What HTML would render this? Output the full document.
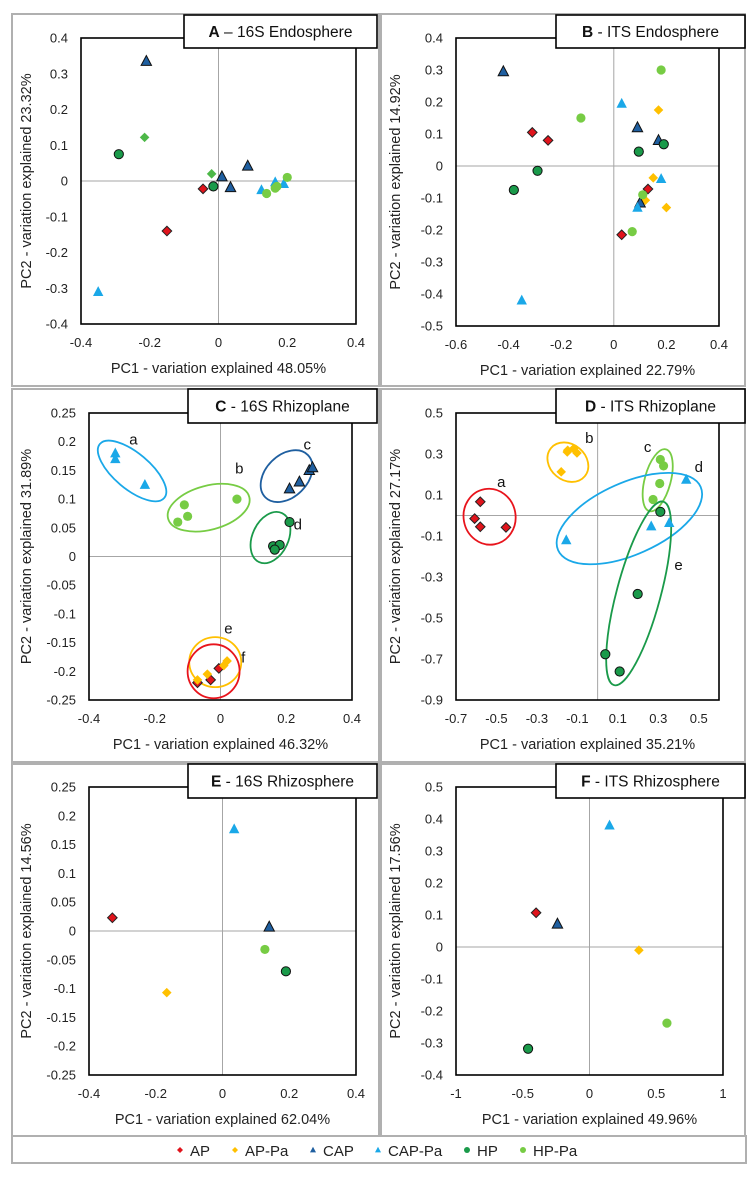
<!DOCTYPE html>
<html><head><meta charset="utf-8">
<style>
html,body{margin:0;padding:0;background:#fff;}
svg{display:block;font-family:"Liberation Sans",Arial,sans-serif;}
</style></head>
<body>
<svg id="chart" width="754" height="1177" viewBox="0 0 754 1177"></svg>
<script>
// ---------- data ----------
const seriesNames = ["AP","AP-Pa","CAP","CAP-Pa","HP","HP-Pa"];
// Panel A - 16S Endosphere
const aAP = [[-0.045,-0.022],[-0.15,-0.14]];
const aAPPa = [[-0.215,0.122],[-0.02,0.02]];
const aCAP = [[-0.21,0.335],[0.01,0.012],[0.035,-0.018],[0.085,0.042]];
const aCAPPa = [[-0.35,-0.31],[0.125,-0.025],[0.165,-0.003],[0.19,-0.008]];
const aHP = [[-0.29,0.075],[-0.015,-0.015]];
const aHPPa = [[0.14,-0.035],[0.165,-0.02],[0.17,-0.015],[0.2,0.01]];
// Panel B - ITS Endosphere
const bAP = [[-0.31,0.105],[-0.25,0.08],[0.13,-0.072],[0.03,-0.215]];
const bAPPa = [[0.17,0.175],[0.15,-0.037],[0.12,-0.107],[0.2,-0.13]];
const bCAP = [[-0.42,0.295],[0.09,0.12],[0.17,0.08],[0.1,-0.115]];
const bCAPPa = [[0.03,0.195],[0.18,-0.04],[0.09,-0.13],[-0.35,-0.42]];
const bHP = [[-0.38,-0.075],[-0.29,-0.015],[0.095,0.045],[0.19,0.068]];
const bHPPa = [[0.18,0.3],[-0.125,0.15],[0.11,-0.09],[0.07,-0.205]];
// Panel C - 16S Rhizoplane
const cAP = [[-0.07,-0.22],[-0.03,-0.215],[-0.005,-0.195]];
const cAPPa = [[-0.07,-0.215],[-0.04,-0.205],[0.01,-0.19],[0.02,-0.182]];
const cCAP = [[0.21,0.118],[0.24,0.13],[0.27,0.15],[0.28,0.155]];
const cCAPPa = [[-0.32,0.18],[-0.32,0.17],[-0.23,0.125]];
const cHP = [[0.21,0.06],[0.16,0.018],[0.18,0.02],[0.165,0.012]];
const cHPPa = [[-0.11,0.09],[-0.13,0.06],[-0.1,0.07],[0.05,0.1]];
// Panel D - ITS Rhizoplane
const dAP = [[-0.608,-0.015],[-0.58,0.067],[-0.58,-0.055],[-0.453,-0.058]];
const dAPPa = [[-0.18,0.213],[-0.148,0.318],[-0.119,0.326],[-0.102,0.305],[-0.15,0.31]];
const dCAP = [];
const dCAPPa = [[0.438,0.175],[0.265,-0.052],[0.354,-0.036],[-0.155,-0.12]];
const dHP = [[0.31,0.018],[0.198,-0.383],[0.038,-0.677],[0.109,-0.761]];
const dHPPa = [[0.31,0.273],[0.326,0.242],[0.307,0.156],[0.274,0.078]];
// Panel E - 16S Rhizosphere
const eAP = [[-0.33,0.023]];
const eAPPa = [[-0.167,-0.107]];
const eCAP = [[0.14,0.007]];
const eCAPPa = [[0.035,0.177]];
const eHP = [[0.19,-0.07]];
const eHPPa = [[0.127,-0.032]];
// Panel F - ITS Rhizosphere
const fAP = [[-0.4,0.107]];
const fAPPa = [[0.37,-0.01]];
const fCAP = [[-0.24,0.072]];
const fCAPPa = [[0.15,0.38]];
const fHP = [[-0.46,-0.318]];
const fHPPa = [[0.58,-0.238]];
// Tick labels
const ticksA_x = [-0.4,-0.2,0,0.2,0.4];
const ticksA_y = [0.4,0.3,0.2,0.1,0,-0.1,-0.2,-0.3,-0.4];
const ticksB_x = [-0.6,-0.4,-0.2,0,0.2,0.4];
const ticksB_y = [0.4,0.3,0.2,0.1,0,-0.1,-0.2,-0.3,-0.4,-0.5];
const ticksC_x = [-0.4,-0.2,0,0.2,0.4];
const ticksC_y = [0.25,0.2,0.15,0.1,0.05,0,-0.05,-0.1,-0.15,-0.2,-0.25];
const ticksD_x = [-0.7,-0.5,-0.3,-0.1,0.1,0.3,0.5];
const ticksD_y = [0.5,0.3,0.1,-0.1,-0.3,-0.5,-0.7,-0.9];
const ticksE_x = [-0.4,-0.2,0,0.2,0.4];
const ticksE_y = [0.25,0.2,0.15,0.1,0.05,0,-0.05,-0.1,-0.15,-0.2,-0.25];
const ticksF_x = [-1,-0.5,0,0.5,1];
const ticksF_y = [0.5,0.4,0.3,0.2,0.1,0,-0.1,-0.2,-0.3,-0.4];
// cluster ellipses: [cx, cy (data), semi-major px, semi-minor px, angle deg, color, label, labelX, labelY]
const ellC = [[-0.269,0.149,42,18,40,"#1AA8E8","a",-0.265,0.204],
              [-0.036,0.085,42,22,-15,"#77CC44","b",0.057,0.153],
              [0.201,0.14,30,21,-45,"#1F5FA0","c",0.264,0.195],
              [0.152,0.033,27,18,-65,"#1A9A4A","d",0.235,0.056],
              [-0.016,-0.184,26,25,0,"#FFC000","e",0.024,-0.125],
              [-0.021,-0.2,26,27,0,"#E8141C","f",0.069,-0.176]];
const ellD = [[-0.534,-0.006,28,26,80,"#E8141C","a",-0.476,0.164],
              [-0.147,0.26,22,18,40,"#FFC000","b",-0.041,0.378],
              [0.297,0.172,32,13,-75,"#77CC44","c",0.247,0.334],
              [0.157,-0.015,78,36,-24,"#1AA8E8","d",0.5,0.237],
              [0.203,-0.38,95,22,-75,"#1A9A4A","e",0.4,-0.242]];

const NS = "http://www.w3.org/2000/svg";
const svg = document.getElementById("chart");
function mk(tag, attrs, parent){
  const e = document.createElementNS(NS, tag);
  for (const k in attrs) e.setAttribute(k, attrs[k]);
  (parent||svg).appendChild(e);
  return e;
}
const styles = {
  "AP":{shape:"diamond",fill:"#E0141C",stroke:"#222"},
  "AP-Pa":{shape:"diamond",fill:"#FFC000",stroke:"none"},
  "CAP":{shape:"triangle",fill:"#1F5FA0",stroke:"#111"},
  "CAP-Pa":{shape:"triangle",fill:"#1AA8E8",stroke:"none"},
  "HP":{shape:"circle",fill:"#1A9A4A",stroke:"#111"},
  "HP-Pa":{shape:"circle",fill:"#77CC44",stroke:"none"}
};
function marker(g, shape, x, y, fill, stroke, s){
  let e;
  if (shape==="diamond") e = mk("polygon",{points:`${x},${y-s} ${x+s},${y} ${x},${y+s} ${x-s},${y}`},g);
  else if (shape==="triangle") e = mk("polygon",{points:`${x},${y-s*1.1} ${x+s},${y+s*0.8} ${x-s},${y+s*0.8}`},g);
  else e = mk("circle",{cx:x,cy:y,r:s},g);
  e.setAttribute("fill", fill);
  e.setAttribute("stroke", stroke);
  e.setAttribute("stroke-width", stroke==="none"?0:1);
  return e;
}
function fmt(v){ return String(v); }

function panel(cfg){
  const g = mk("g",{});
  
  
  const box = mk("rect",{x:cfg.box[0],y:cfg.box[1],width:cfg.box[2],height:cfg.box[3],fill:"#fff",stroke:"#b0b0b0","stroke-width":2},g);
  
  
  const [L,T,R,B] = cfg.plot;
  const sx = v => L + (v-cfg.xd[0])/(cfg.xd[1]-cfg.xd[0])*(R-L);
  const sy = v => T + (cfg.yd[1]-v)/(cfg.yd[1]-cfg.yd[0])*(B-T);
  // zero lines
  const zx = mk("line",{x1:sx(0),x2:sx(0),y1:T,y2:B,stroke:"#a6a6a6","stroke-width":1},g);
   
  const zy = mk("line",{x1:L,x2:R,y1:sy(0),y2:sy(0),stroke:"#a6a6a6","stroke-width":1},g);
   
  const pr = mk("rect",{x:L,y:T,width:R-L,height:B-T,fill:"none",stroke:"#000","stroke-width":1.6},g);
   
  // ticks
  cfg.xt.forEach(v=>{
    const t = mk("text",{x:sx(v),y:B+23,"text-anchor":"middle","font-size":13,fill:"#222"},g);
     
    t.textContent = fmt(v);
  });
  cfg.yt.forEach(v=>{
    const t = mk("text",{x:L-13,y:sy(v)+4.5,"text-anchor":"end","font-size":13,fill:"#222"},g);
     
    t.textContent = fmt(v);
  });
  const xt = mk("text",{x:(L+R)/2,y:B+49,"text-anchor":"middle","font-size":14.5,fill:"#222"},g);
   
  xt.textContent = cfg.xtitle;
  const ycx = cfg.box[0]+19, ycy=(T+B)/2;
  const yt = mk("text",{x:ycx,y:ycy,"text-anchor":"middle","font-size":14.5,fill:"#222",transform:`rotate(-90 ${ycx} ${ycy})`},g);
   
  yt.textContent = cfg.ytitle;
  // ellipses
  (cfg.ell||[]).forEach(e=>{
    const cx=sx(e[0]), cy=sy(e[1]);
    const el = mk("ellipse",{cx:cx,cy:cy,rx:e[2],ry:e[3],transform:`rotate(${e[4]} ${cx} ${cy})`,fill:"none",stroke:e[5],"stroke-width":1.8},g);
     
    const lt = mk("text",{x:sx(e[7]),y:sy(e[8])+5,"text-anchor":"middle","font-size":15,fill:"#111"},g);
     
    lt.textContent = e[6];
  });
  // series
  cfg.series.forEach((pts,i)=>{
    const nm = seriesNames[i];
    const st = styles[nm];
    const fill = (cfg.override && cfg.override[nm]) || st.fill;
    pts.forEach(p=>{
      const s = st.shape==="circle"?4.6:(st.shape==="triangle"?5.2:4.8);
      const m = marker(g, st.shape, sx(p[0]), sy(p[1]), fill, st.stroke, s);
      
      
    });
  });
  // title box
  const tb = cfg.tbox;
  const tr = mk("rect",{x:tb[0],y:tb[1],width:tb[2],height:tb[3],fill:"#fff",stroke:"#000","stroke-width":1.6},g);
   
  const tt = mk("text",{x:tb[0]+tb[2]/2,y:tb[1]+tb[3]/2+5.5,"text-anchor":"middle","font-size":15.5,fill:"#111"},g);
   
  const b1 = mk("tspan",{"font-weight":"bold"},tt); b1.textContent = cfg.letter;
  const b2 = mk("tspan",{},tt); b2.textContent = cfg.title;
}

panel({name:"panel-a-16s-endosphere",box:[12,14,367,372],plot:[81,38,356,324],xd:[-0.4,0.4],yd:[-0.4,0.4],
  xt:ticksA_x,yt:ticksA_y,xtitle:"PC1 - variation explained 48.05%",ytitle:"PC2 - variation explained 23.32%",
  series:[aAP,aAPPa,aCAP,aCAPPa,aHP,aHPPa],override:{"AP-Pa":"#4DB848"},tbox:[184,15,193,33],letter:"A",title:" – 16S Endosphere"});
panel({name:"panel-b-its-endosphere",box:[381,14,364,372],plot:[456,38,719,326],xd:[-0.6,0.4],yd:[-0.5,0.4],
  xt:ticksB_x,yt:ticksB_y,xtitle:"PC1 - variation explained 22.79%",ytitle:"PC2 - variation explained 14.92%",
  series:[bAP,bAPPa,bCAP,bCAPPa,bHP,bHPPa],tbox:[556,15,189,33],letter:"B",title:" - ITS Endosphere"});
panel({name:"panel-c-16s-rhizoplane",box:[12,389,367,373],plot:[89,413,352,700],xd:[-0.4,0.4],yd:[-0.25,0.25],
  xt:ticksC_x,yt:ticksC_y,xtitle:"PC1 - variation explained 46.32%",ytitle:"PC2 - variation explained 31.89%",
  series:[cAP,cAPPa,cCAP,cCAPPa,cHP,cHPPa],ell:ellC,tbox:[188,389,189,34],letter:"C",title:" - 16S Rhizoplane"});
panel({name:"panel-d-its-rhizoplane",box:[381,389,364,373],plot:[456,413,719,700],xd:[-0.7,0.6],yd:[-0.9,0.5],
  xt:ticksD_x,yt:ticksD_y,xtitle:"PC1 - variation explained 35.21%",ytitle:"PC2 - variation explained 27.17%",
  series:[dAP,dAPPa,dCAP,dCAPPa,dHP,dHPPa],ell:ellD,tbox:[556,389,189,34],letter:"D",title:" - ITS Rhizoplane"});
panel({name:"panel-e-16s-rhizosphere",box:[12,764,367,372],plot:[89,787,356,1075],xd:[-0.4,0.4],yd:[-0.25,0.25],
  xt:ticksE_x,yt:ticksE_y,xtitle:"PC1 - variation explained 62.04%",ytitle:"PC2 - variation explained 14.56%",
  series:[eAP,eAPPa,eCAP,eCAPPa,eHP,eHPPa],tbox:[188,764,189,34],letter:"E",title:" - 16S Rhizosphere"});
panel({name:"panel-f-its-rhizosphere",box:[381,764,364,372],plot:[456,787,723,1075],xd:[-1,1],yd:[-0.4,0.5],
  xt:ticksF_x,yt:ticksF_y,xtitle:"PC1 - variation explained 49.96%",ytitle:"PC2 - variation explained 17.56%",
  series:[fAP,fAPPa,fCAP,fCAPPa,fHP,fHPPa],tbox:[556,764,189,34],letter:"F",title:" - ITS Rhizosphere"});

// legend
const lg = mk("g",{});


const lr = mk("rect",{x:12,y:1136,width:734,height:27,fill:"#fff",stroke:"#b0b0b0","stroke-width":2},lg);
 
const legX = [180,235,313,378,467,523];
seriesNames.forEach((nm,i)=>{
  const st = styles[nm];
  const m = marker(lg, st.shape, legX[i], 1150, st.fill, "none", 3);
  
  
  const t = mk("text",{x:legX[i]+10,y:1156,"font-size":15,fill:"#222"},lg);
  
  
  t.textContent = nm;
});
</script>
</body></html>
